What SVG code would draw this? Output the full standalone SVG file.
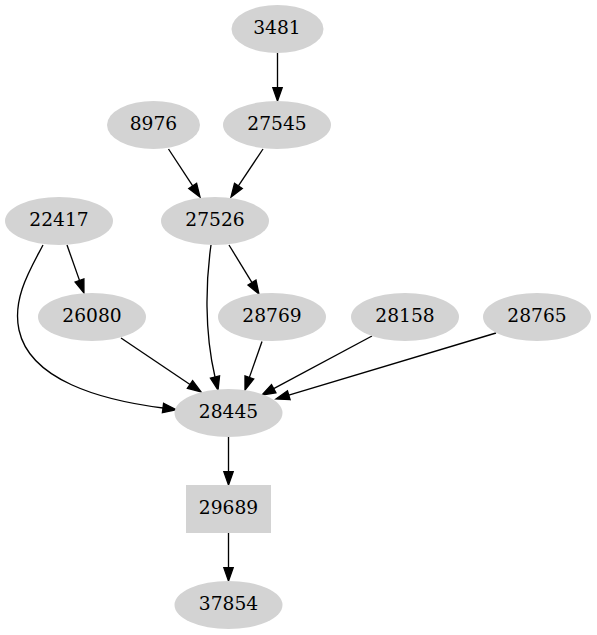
<svg xmlns="http://www.w3.org/2000/svg" width="597" height="635" viewBox="0 0 597 635">
<style>
.n{fill:#d3d3d3;stroke:none}
.t{font-family:"DejaVu Serif",serif;font-size:18.67px;fill:#000;text-anchor:middle}
.e{fill:none;stroke:#000;stroke-width:1.33;marker-end:url(#ah)}
</style>
<defs>
<marker id="ah" markerUnits="userSpaceOnUse" markerWidth="16" markerHeight="12" viewBox="0 -6 16 12" refX="0" refY="0" orient="auto" overflow="visible">
<path d="M0,-4.67 L13.33,0 L0,4.67 Z" fill="#000" stroke="#000" stroke-width="1.33"/>
</marker>
</defs>
<rect width="597" height="635" fill="#fff"/>
<g id="edges">
<path class="e" d="M277.5,53 L277.5,87.7"/>
<path class="e" d="M168.5,149 L192.7,185.9"/>
<path class="e" d="M263,149 L238.4,185.9"/>
<path class="e" d="M67,245 L79.5,280.4"/>
<path class="e" d="M43,245 C31,268 12,298 19,330 C30,380 100,400 163,408"/>
<path class="e" d="M211,245 C206,280 204,330 215,377"/>
<path class="e" d="M229,245 L252,282.6"/>
<path class="e" d="M121,338 L190,384.5"/>
<path class="e" d="M262,341.5 L249.4,377.4"/>
<path class="e" d="M372,336 L273.7,388.7"/>
<path class="e" d="M496,333 L288.8,395.2"/>
<path class="e" d="M228.5,437 L228.5,471.7"/>
<path class="e" d="M228.5,533 L228.5,567.7"/>
</g>
<g id="n3481"><ellipse class="n" cx="277.5" cy="29" rx="46" ry="24"/><text class="t" x="277" y="34">3481</text></g>
<g id="n27545"><ellipse class="n" cx="277" cy="125" rx="54" ry="24"/><text class="t" x="277" y="130">27545</text></g>
<g id="n8976"><ellipse class="n" cx="153.5" cy="125" rx="46.5" ry="24"/><text class="t" x="153.5" y="130">8976</text></g>
<g id="n27526"><ellipse class="n" cx="215" cy="221" rx="54" ry="24"/><text class="t" x="215" y="226">27526</text></g>
<g id="n22417"><ellipse class="n" cx="59" cy="221" rx="54" ry="24"/><text class="t" x="59" y="226">22417</text></g>
<g id="n26080"><ellipse class="n" cx="92" cy="317" rx="54" ry="24"/><text class="t" x="92" y="322">26080</text></g>
<g id="n28769"><ellipse class="n" cx="272" cy="317" rx="54" ry="24"/><text class="t" x="272" y="322">28769</text></g>
<g id="n28158"><ellipse class="n" cx="405" cy="317" rx="54" ry="24"/><text class="t" x="405" y="322">28158</text></g>
<g id="n28765"><ellipse class="n" cx="537" cy="317" rx="54" ry="24"/><text class="t" x="537" y="322">28765</text></g>
<g id="n28445"><ellipse class="n" cx="228.5" cy="413" rx="54" ry="24"/><text class="t" x="228.5" y="418">28445</text></g>
<g id="n29689"><rect class="n" x="186" y="485" width="85" height="48"/><text class="t" x="228.5" y="514">29689</text></g>
<g id="n37854"><ellipse class="n" cx="228.5" cy="605" rx="54" ry="24"/><text class="t" x="228.5" y="610">37854</text></g>
</svg>
